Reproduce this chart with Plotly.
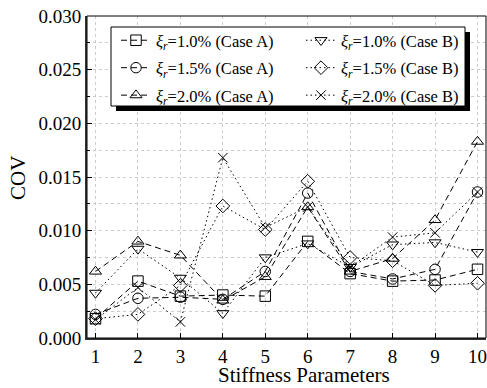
import plotly.graph_objects as go

params = [1, 2, 3, 4, 5, 6, 7, 8, 9, 10]
a10 = [0.0018, 0.0053, 0.0039, 0.0040, 0.0039, 0.0090, 0.0060, 0.0053, 0.0054, 0.0064]
a15 = [0.0022, 0.0037, 0.0038, 0.0036, 0.0062, 0.0135, 0.0062, 0.0055, 0.0064, 0.0136]
a20 = [0.0062, 0.0090, 0.0077, 0.0035, 0.0057, 0.0122, 0.0062, 0.0074, 0.0110, 0.0183]
b10 = [0.0042, 0.0083, 0.0056, 0.0023, 0.0075, 0.0088, 0.0066, 0.0087, 0.0089, 0.0080]
b15 = [0.0018, 0.0022, 0.0049, 0.0123, 0.0101, 0.0146, 0.0075, 0.0072, 0.0049, 0.0051]
b20 = [0.0017, 0.0047, 0.0015, 0.0168, 0.0103, 0.0122, 0.0066, 0.0094, 0.0098, 0.0136]

FONT = "Liberation Serif, Times New Roman, serif"
xi = "<i>ξ</i><sub><i>r</i></sub>"
series = [
    (f"{xi}=1.0% (Case A)", a10, "square-open", "A"),
    (f"{xi}=1.5% (Case A)", a15, "circle-open", "A"),
    (f"{xi}=2.0% (Case A)", a20, "triangle-up-open", "A"),
    (f"{xi}=1.0% (Case B)", b10, "triangle-down-open", "B"),
    (f"{xi}=1.5% (Case B)", b15, "diamond-open", "B"),
    (f"{xi}=2.0% (Case B)", b20, "x-thin-open", "B"),
]

fig = go.Figure()
for i, (name, vals, sym, case) in enumerate(series):
    dash = "6px,4px" if case == "A" else "1.5px,3px"
    fig.add_trace(go.Scatter(
        x=params, y=vals, name=name, mode="lines+markers",
        legend="legend" if case == "A" else "legend2",
        legendgroup=f"g{i}",
        line=dict(color="black", width=1, dash=dash),
        marker=dict(symbol=sym, size=10.5 if sym != "x-thin-open" else 9.5,
                    color="black", line=dict(color="black", width=1)),
    ))

W, H = 487, 388
L, R, T, B = 87, 1, 16, 50
pw, ph = W - L - R, H - T - B

def px2paper(x, y):
    return (x - L) / pw, (H - B - y) / ph

sx0, sy0 = px2paper(116, 32)
sx1, sy1 = px2paper(470, 111)
bx0, by0 = px2paper(111, 27)
bx1, by1 = px2paper(465, 106)
l1x, l1y = px2paper(116, 23)
l2x, _ = px2paper(301, 23)
tx, ty = px2paper(304, 375)
cx, cy = px2paper(18, 178)

leg = dict(
    orientation="v", y=l1y, xanchor="left", yanchor="top",
    bgcolor="rgba(0,0,0,0)", borderwidth=0, tracegroupgap=3,
    font=dict(family=FONT, size=16.5, color="black"),
)

fig.update_layout(
    width=W, height=H,
    margin=dict(l=L, r=R, t=T, b=B),
    paper_bgcolor="white", plot_bgcolor="white",
    font=dict(family=FONT, size=16, color="black"),
    showlegend=True,
    legend=dict(leg, x=l1x),
    legend2=dict(leg, x=l2x),
    xaxis=dict(
        range=[0.8, 10.2], tickvals=params, ticks="inside", ticklen=5,
        tickcolor="black", showline=True, linecolor="#333", linewidth=2,
        showgrid=True, gridcolor="#cccccc", griddash="dot", gridwidth=1,
        zeroline=False, ticklabeloverflow="allow",
        tickfont=dict(family=FONT, size=19),
    ),
    yaxis=dict(
        range=[0, 0.030], dtick=0.005, tickformat=".3f", ticks="inside",
        ticklen=5, tickcolor="black", showline=True, linecolor="#333",
        linewidth=2, showgrid=True, gridcolor="#cccccc", griddash="dot",
        zeroline=False,
        minor=dict(dtick=0.0025, ticks="inside", ticklen=3, tickcolor="black",
                   showgrid=True, gridcolor="#cccccc", griddash="dot"),
        tickfont=dict(family=FONT, size=19),
    ),
    annotations=[
        dict(text="Stiffness Parameters", xref="paper", yref="paper", x=tx, y=ty,
             xanchor="center", yanchor="middle", showarrow=False,
             font=dict(family=FONT, size=21)),
        dict(text="COV", xref="paper", yref="paper", x=cx, y=cy, textangle=-90,
             xanchor="center", yanchor="middle", showarrow=False,
             font=dict(family=FONT, size=21)),
    ],
    shapes=[
        dict(type="rect", xref="paper", yref="paper", x0=0, x1=1, y0=0, y1=1,
             line=dict(color="black", width=1), layer="above"),
        dict(type="rect", xref="paper", yref="paper", x0=sx0, x1=sx1, y0=sy1, y1=sy0,
             fillcolor="black", line=dict(width=0), layer="above"),
        dict(type="rect", xref="paper", yref="paper", x0=bx0, x1=bx1, y0=by1, y1=by0,
             fillcolor="white", line=dict(color="black", width=1), layer="above"),
    ],
)

fig.write_html("out.html")
